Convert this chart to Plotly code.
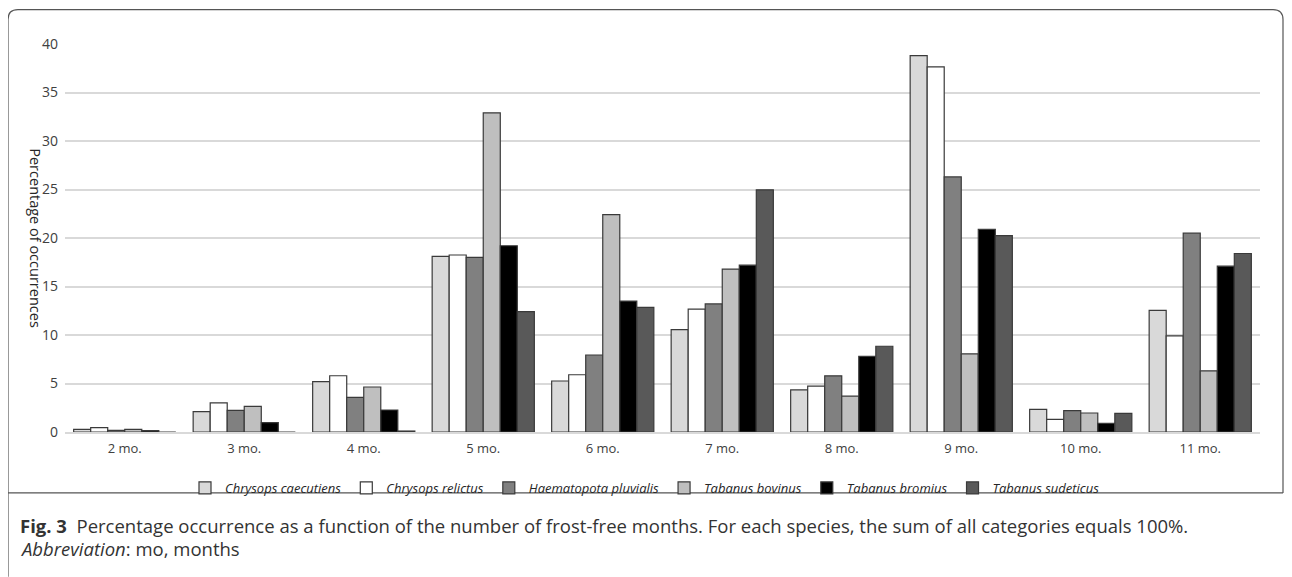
import plotly.graph_objects as go

categories = ["2 mo.", "3 mo.", "4 mo.", "5 mo.", "6 mo.", "7 mo.", "8 mo.", "9 mo.", "10 mo.", "11 mo."]

species = ["Chrysops caecutiens", "Chrysops relictus", "Haematopota pluvialis",
           "Tabanus bovinus", "Tabanus bromius", "Tabanus sudeticus"]

chrysops_caecutiens = [0.27, 2.1, 5.2, 18.1, 5.26, 10.55, 4.35, 38.8, 2.33, 12.53]
chrysops_relictus = [0.45, 3.0, 5.8, 18.25, 5.9, 12.67, 4.73, 37.65, 1.3, 9.92]
haematopota_pluvialis = [0.17, 2.23, 3.57, 18.0, 7.94, 13.2, 5.79, 26.3, 2.2, 20.5]
tabanus_bovinus = [0.27, 2.65, 4.64, 32.9, 22.4, 16.8, 3.7, 8.06, 1.96, 6.31]
tabanus_bromius = [0.14, 0.96, 2.27, 19.2, 13.5, 17.2, 7.8, 20.9, 0.89, 17.1]
tabanus_sudeticus = [0.0, 0.0, 0.1, 12.4, 12.85, 24.97, 8.84, 20.25, 1.92, 18.4]

series = [chrysops_caecutiens, chrysops_relictus, haematopota_pluvialis,
          tabanus_bovinus, tabanus_bromius, tabanus_sudeticus]
colors = ["#d9d9d9", "#ffffff", "#808080", "#bfbfbf", "#000000", "#595959"]

y_ticks = [0, 5, 10, 15, 20, 25, 30, 35, 40]

# page places the figure 8px in from the top-left corner
OFF = 8
W, H = 1292 - OFF, 577 - OFF
# plot area in page pixel coordinates
L, R, T, B = 65, 1260, 43.5, 432.0


def px(x):
    return (x - L) / (R - L)


def py(y):
    return (B - y) / (B - T)


fig = go.Figure()
for name, vals, col in zip(species, series, colors):
    fig.add_trace(go.Bar(
        x=categories, y=vals, name=name,
        marker=dict(color=col, line=dict(color="#3a3a3a", width=1.2)),
    ))

font_main = "Open Sans, Liberation Sans, sans-serif"

fig.update_layout(
    width=W, height=H,
    margin=dict(l=L - OFF, r=W - (R - OFF), t=T - OFF, b=H - (B - OFF), autoexpand=False),
    paper_bgcolor="white", plot_bgcolor="white",
    barmode="group", bargap=0.145, bargroupgap=0,
    font=dict(family=font_main, size=13, color="#404040"),
    showlegend=True,
    legend=dict(orientation="h", x=px(645), xanchor="center", y=py(488), yanchor="middle",
                font=dict(family=font_main, size=13, color="#262626", style="italic"),
                itemwidth=30, traceorder="normal", bgcolor="rgba(0,0,0,0)"),
    xaxis=dict(showgrid=False, showline=True, linecolor="#d9d9d9", linewidth=1.5,
               ticks="", tickfont=dict(size=13, color="#404040"), ticklabelstandoff=4),
    yaxis=dict(range=[0, 40], tickvals=y_ticks, showgrid=True, gridcolor="#d9d9d9",
               gridwidth=1.5, zeroline=False, showline=False, ticks="",
               tickfont=dict(size=14, color="#404040"), ticklabelstandoff=6),
)

# y-axis title (reads top to bottom)
fig.add_annotation(x=px(36), y=py(238), xref="paper", yref="paper",
                   text="Percentage of occurrences", textangle=90, showarrow=False,
                   font=dict(size=14.5, color="#262626"), xanchor="center", yanchor="middle")

# caption
fig.add_annotation(x=px(18), y=py(526), xref="paper", yref="paper", xanchor="left", yanchor="middle",
                   text="<b>Fig. 3</b>  Percentage occurrence as a function of the number of frost-free months. "
                        "For each species, the sum of all categories equals 100%.",
                   showarrow=False, font=dict(size=18.5, color="#333333"))
fig.add_annotation(x=px(18), y=py(549), xref="paper", yref="paper", xanchor="left", yanchor="middle",
                   text="<i>Abbreviation</i>: mo, months",
                   showarrow=False, font=dict(size=18.5, color="#333333"))

# frame: rounded top corners, chart box closed at y=493, left edge continues down
x0, x1, y0, y1, ysep, r = 8, 1283, 9, 577, 493, 10
path = (f"M {px(x0)},{py(y1)} L {px(x0)},{py(y0 + r)} Q {px(x0)},{py(y0)} {px(x0 + r)},{py(y0)} "
        f"L {px(x1 - r)},{py(y0)} Q {px(x1)},{py(y0)} {px(x1)},{py(y0 + r)} L {px(x1)},{py(ysep)}")
fig.add_shape(type="path", path=path, xref="paper", yref="paper",
              line=dict(color="#555555", width=1.2))
fig.add_shape(type="line", x0=px(x0), x1=px(x1), y0=py(ysep), y1=py(ysep), xref="paper", yref="paper",
              line=dict(color="#555555", width=1.2))

fig.write_html("out.html")
